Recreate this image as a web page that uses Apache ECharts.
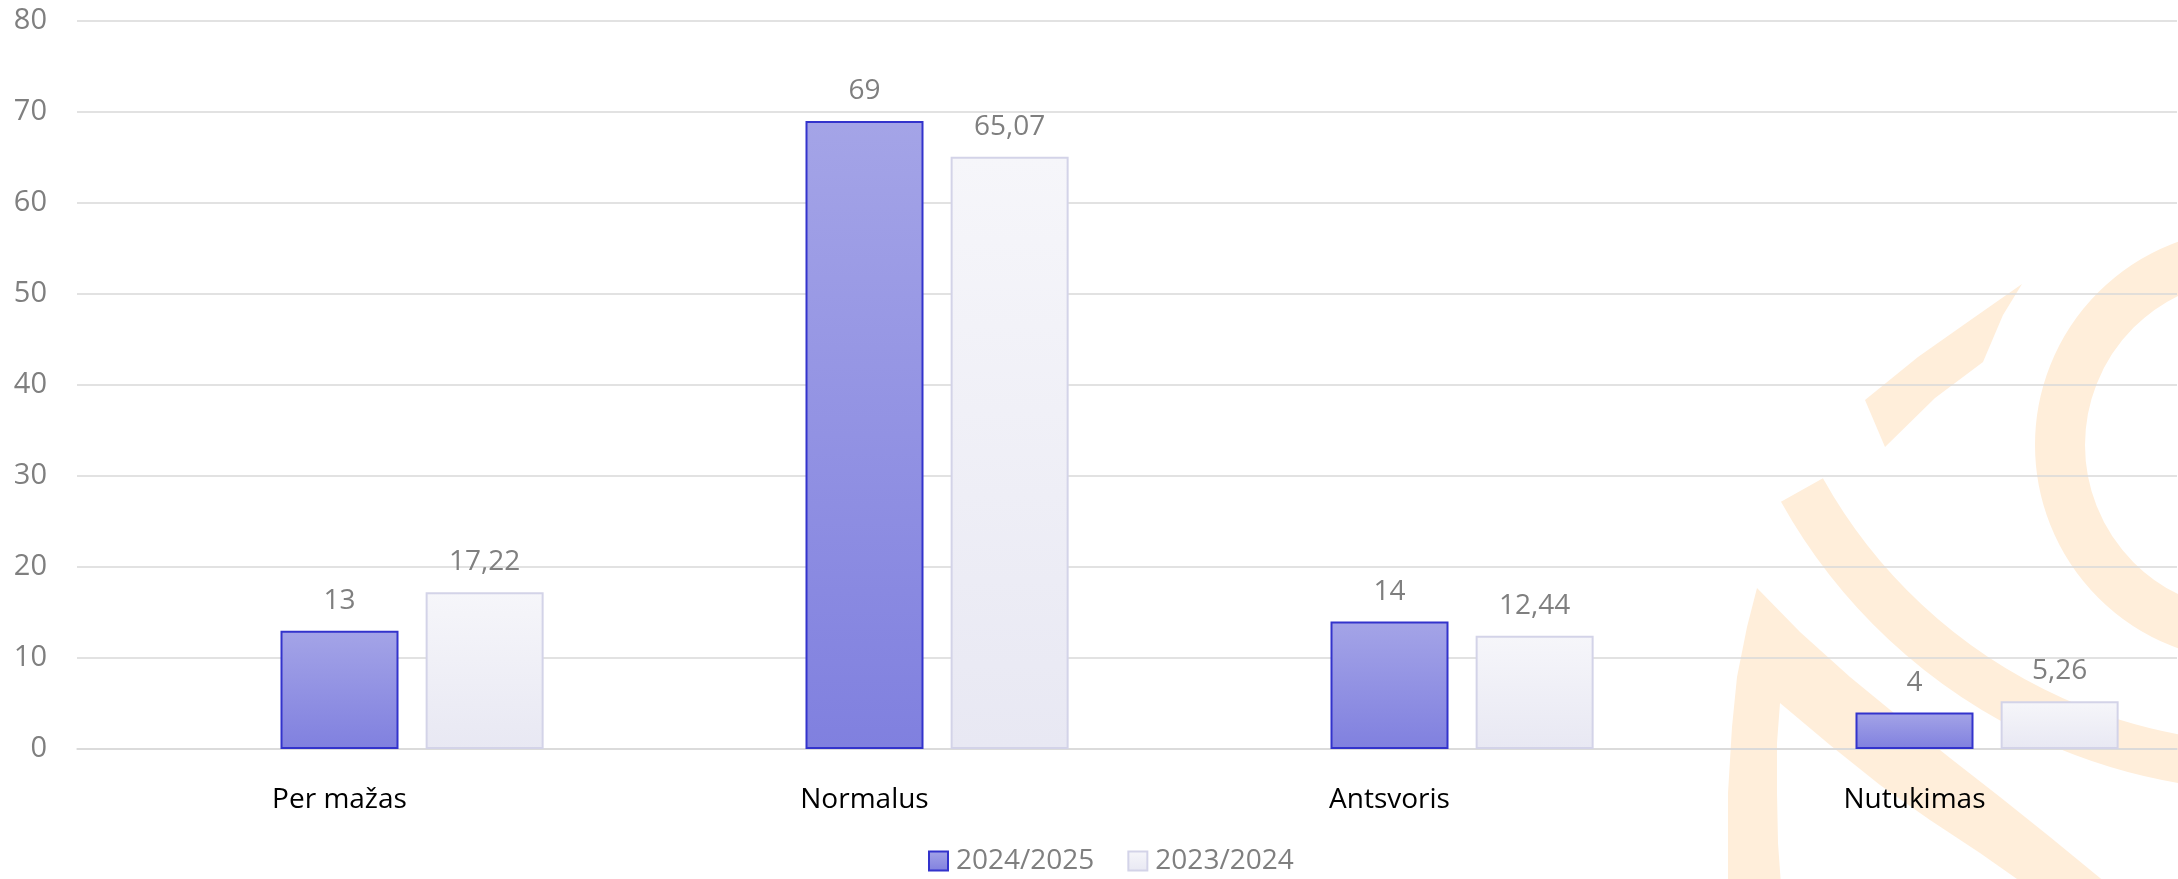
<!DOCTYPE html>
<html>
<head>
<meta charset="utf-8">
<script src="https://cdn.jsdelivr.net/npm/echarts@6/dist/echarts.min.js"></script>
<style>
html,body{margin:0;padding:0;background:#ffffff;}
#chart{width:2178px;height:879px;}
</style>
</head>
<body>
<div id="chart"></div>
<script>
// ---- data ----
var categories = ['Per mažas', 'Normalus', 'Antsvoris', 'Nutukimas'];
var seriesNames = ['2024/2025', '2023/2024'];
var values2024 = [13, 69, 14, 4];
var values2023 = [17.22, 65.07, 12.44, 5.26];
var yTicks = [0, 10, 20, 30, 40, 50, 60, 70, 80];

// ---- chart ----
var FONT = 'Open Sans';
var WM = '#FFEEDA';
var chart = echarts.init(document.getElementById('chart'));

function fmt(p) { return String(p.value).replace('.', ','); }

var option = {
  animation: false,
  backgroundColor: '#ffffff',
  textStyle: { fontFamily: FONT },
  grid: { left: 77, right: 1, top: 21, bottom: 130, containLabel: false },
  legend: {
    data: seriesNames,
    left: 923,
    top: 842,
    itemWidth: 19,
    itemHeight: 19,
    itemGap: 33,
    icon: 'rect',
    textStyle: { fontFamily: FONT, fontSize: 28, color: '#7f7f7f', padding: [0, 0, 0, 3] }
  },
  xAxis: {
    type: 'category',
    data: categories,
    axisLine: { show: true, lineStyle: { color: '#d9d9d9', width: 1.5 } },
    axisTick: { show: false },
    axisLabel: { fontFamily: FONT, fontSize: 28, color: '#000000', margin: 37 }
  },
  yAxis: {
    type: 'value',
    min: yTicks[0],
    max: yTicks[yTicks.length - 1],
    interval: yTicks[1] - yTicks[0],
    axisLine: { show: false },
    axisTick: { show: false },
    splitLine: { lineStyle: { color: '#d9d9d9', width: 1.5 } },
    axisLabel: { fontFamily: FONT, fontSize: 29, color: '#7f7f7f', margin: 30 }
  },
  graphic: [
    { type: 'circle', z: -10, silent: true,
      shape: { cx: 2251, cy: 445, r: 191 },
      style: { fill: 'none', stroke: WM, lineWidth: 50 } },
    { type: 'arc', z: -10, silent: true,
      shape: { cx: 2273, cy: 228, r: 539, startAngle: 1.35, endAngle: 2.634, clockwise: true },
      style: { fill: 'none', stroke: WM, lineWidth: 48 } },
    { type: 'polygon', z: -10, silent: true,
      shape: { points: [[1865,400],[1918,357],[1972,319],[2022,284],[2003,315],[1983,362],[1935,398],[1885,447]] },
      style: { fill: WM } },
    { type: 'polygon', z: -10, silent: true,
      shape: { points: [[1728,899],[1728,840],[1728,793],[1732,727],[1737,677],[1747,627],[1757,588],
                        [1800,632],[1850,677],[1900,718],[1950,758],[2000,797],[2050,837],[2100,878],[2125,899],
                        [2045,899],[2017,879],[1980,853],[1930,820],[1880,785],[1830,745],[1780,703],
                        [1777,743],[1777,793],[1778,843],[1782,899]] },
      style: { fill: WM } }
  ],
  series: [
    {
      name: 'spacer', type: 'bar', data: [null, null, null, null],
      barWidth: 118, barGap: '23%', silent: true
    },
    {
      name: seriesNames[0], type: 'bar', data: values2024,
      barWidth: 118, barGap: '23%',
      itemStyle: {
        color: new echarts.graphic.LinearGradient(0, 0, 0, 1, [
          { offset: 0, color: '#a4a4e7' }, { offset: 1, color: '#8080df' }
        ]),
        borderColor: '#3333cc', borderWidth: 2
      },
      label: { show: true, position: 'top', distance: 16, fontFamily: FONT, fontSize: 28, color: '#7f7f7f', formatter: fmt }
    },
    {
      name: seriesNames[1], type: 'bar', data: values2023,
      barWidth: 118, barGap: '23%',
      itemStyle: {
        color: new echarts.graphic.LinearGradient(0, 0, 0, 1, [
          { offset: 0, color: '#f6f6fa' }, { offset: 1, color: '#e8e8f3' }
        ]),
        borderColor: '#d3d3e8', borderWidth: 2
      },
      label: { show: true, position: 'top', distance: 16, fontFamily: FONT, fontSize: 28, color: '#7f7f7f', formatter: fmt }
    }
  ]
};
chart.setOption(option);
</script>
</body>
</html>
